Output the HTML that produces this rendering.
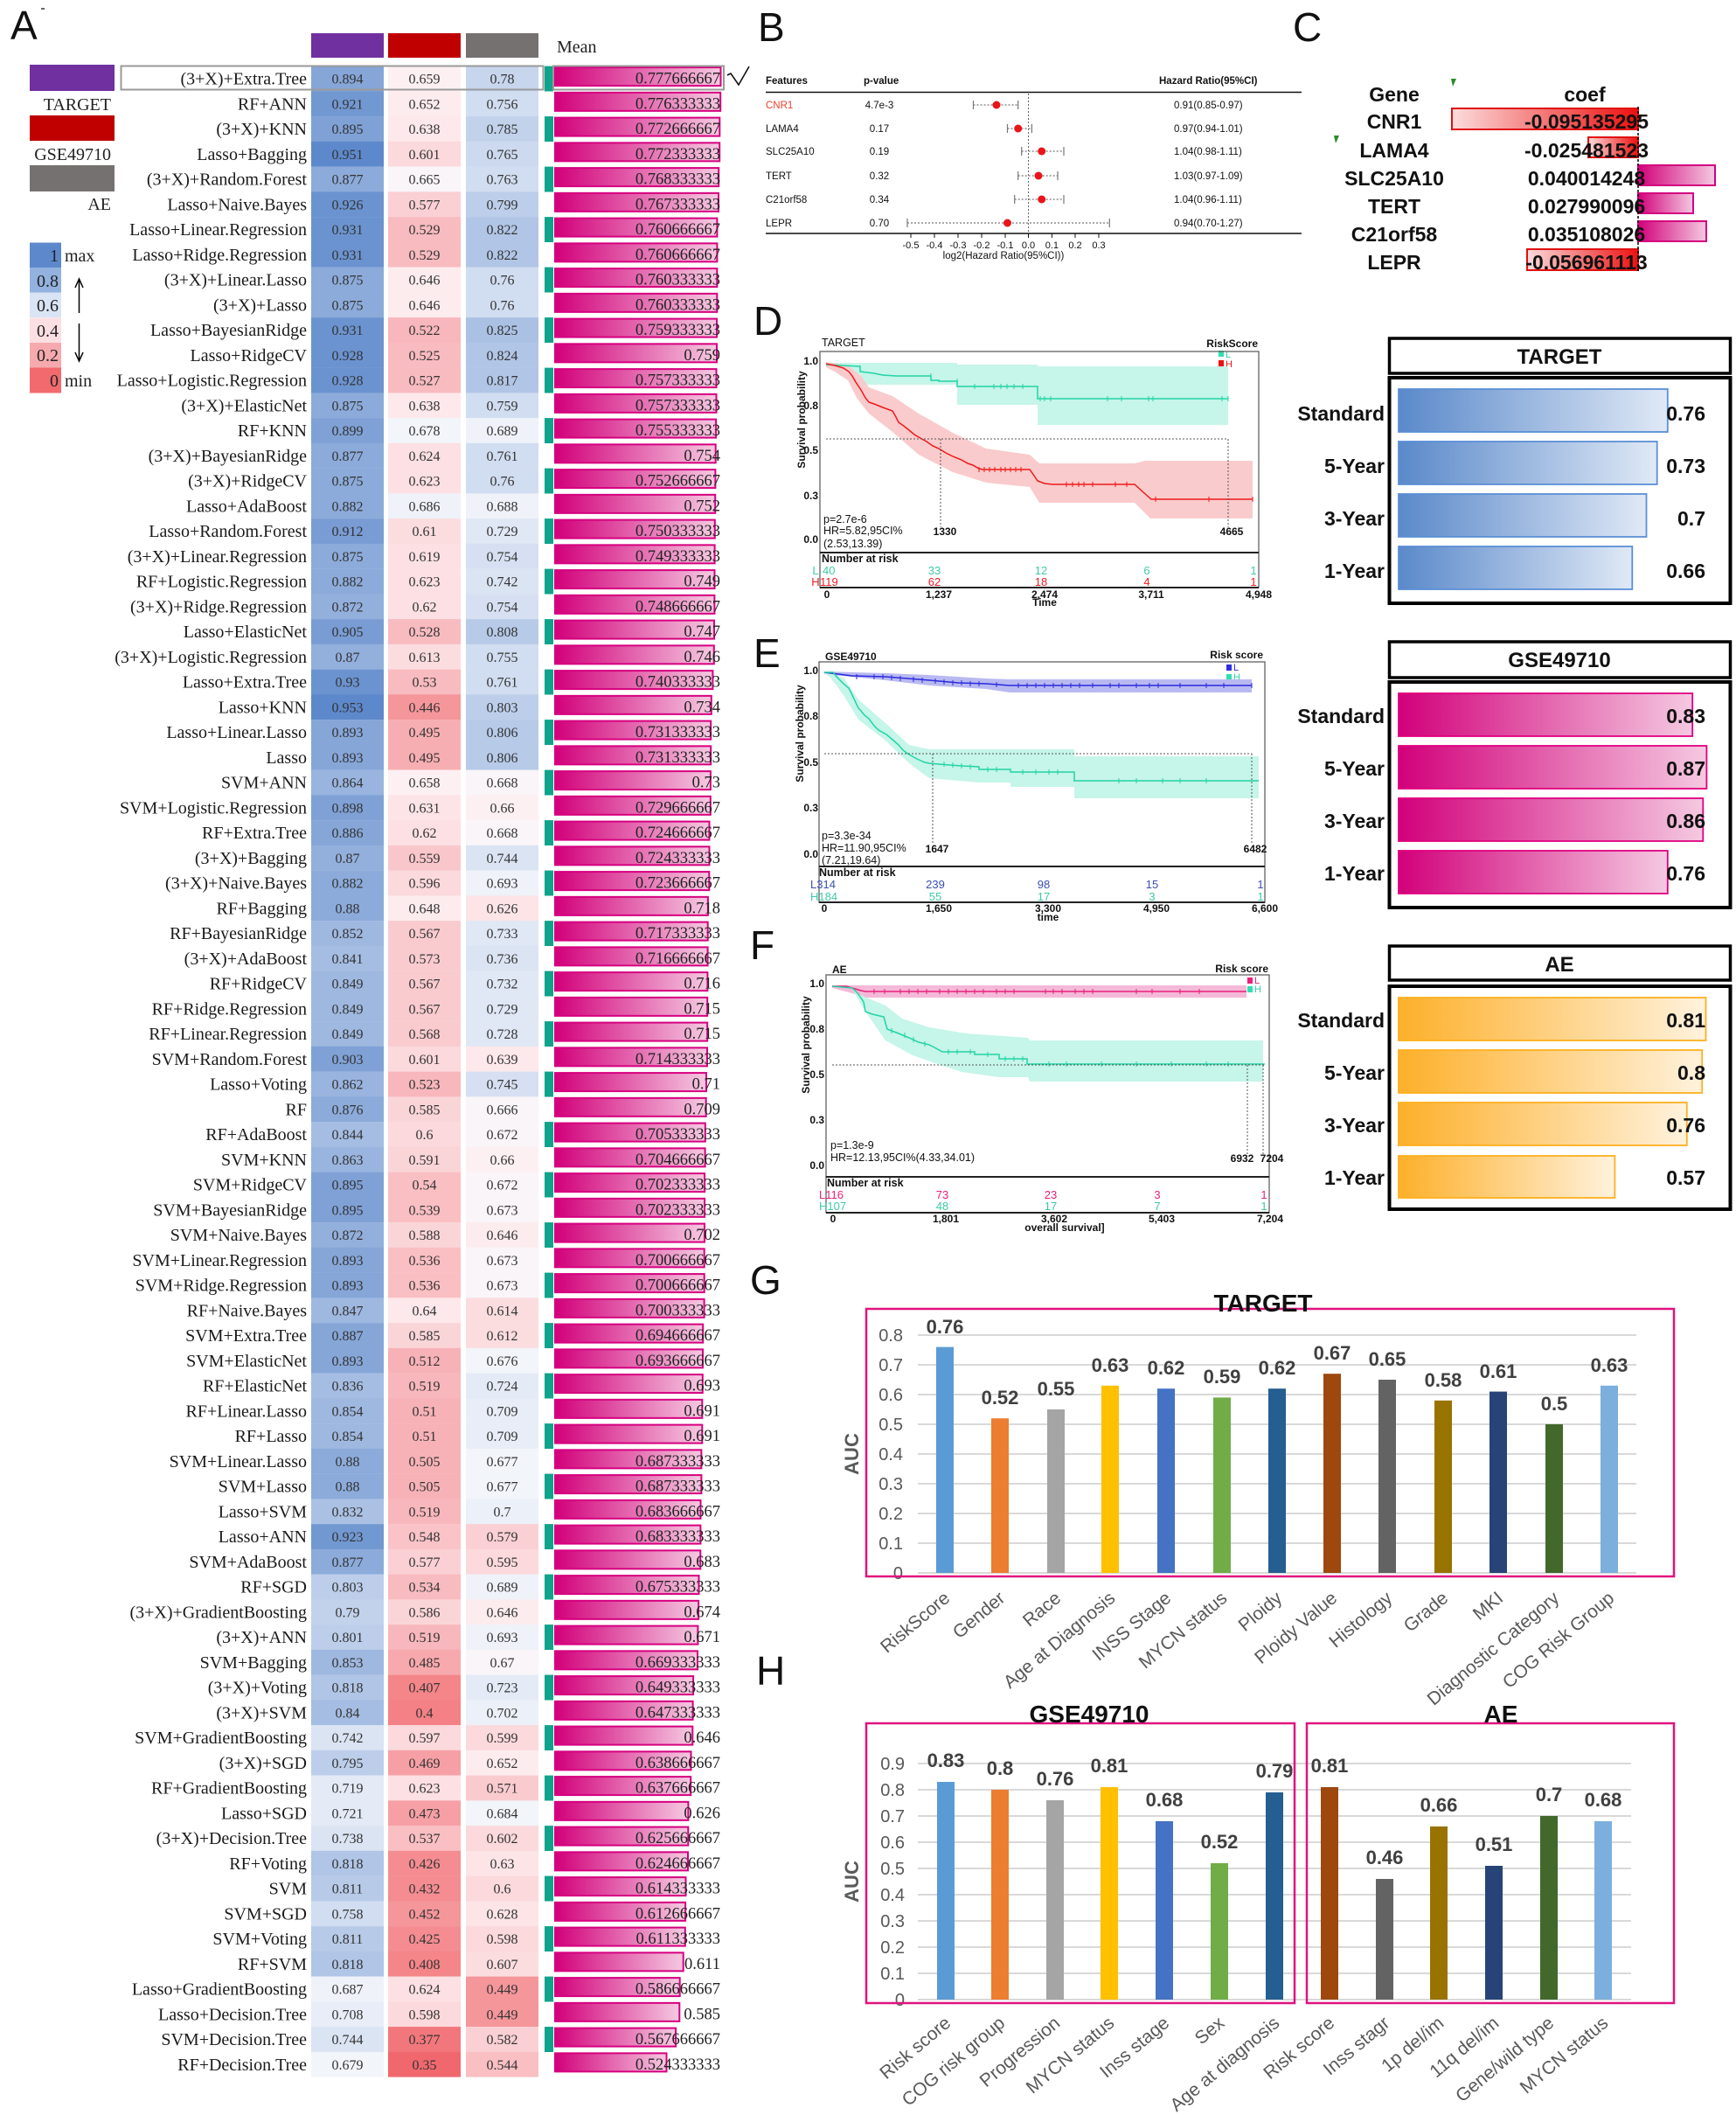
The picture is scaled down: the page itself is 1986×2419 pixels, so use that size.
<!DOCTYPE html>
<html><head><meta charset="utf-8"><title>Figure</title>
<style>
html,body{margin:0;padding:0;background:#fff;}
svg{display:block;}
text{font-family:"Liberation Sans",Arial,sans-serif;}
.lb{font-family:"Liberation Serif",serif;font-size:20px;text-anchor:end;fill:#1a1a1a;}
.v{font-family:"Liberation Serif",serif;font-size:16px;text-anchor:middle;fill:#333;}
.m{font-family:"Liberation Serif",serif;font-size:18.5px;text-anchor:end;fill:#222;}
.sr{font-family:"Liberation Serif",serif;font-size:20px;fill:#222;}
.mb{fill:url(#gm);stroke:#d6007f;stroke-width:2;}
.tl{fill:#10a38b;}
.c35{fill:#f0686e}.c38{fill:#f2777c}.c40{fill:#f38185}.c41{fill:#f48589}.c43{fill:#f48c91}.c45{fill:#f5969b}.c47{fill:#f6a0a5}.c49{fill:#f7a9ad}.c50{fill:#f7aeb2}.c51{fill:#f7b2b7}.c52{fill:#f8b7bc}.c53{fill:#f8bbc0}.c54{fill:#f9bfc3}.c55{fill:#f9c3c7}.c56{fill:#f9c7cb}.c57{fill:#f9cbcf}.c58{fill:#fad0d4}.c59{fill:#fad5d8}.c60{fill:#fbd9dc}.c61{fill:#fbdde0}.c62{fill:#fce0e3}.c63{fill:#fce4e7}.c64{fill:#fde8eb}.c65{fill:#fdecee}.c66{fill:#fdf0f2}.c67{fill:#f9f5f8}
.c68{fill:#f2f5fa}.c69{fill:#eff2f9}.c70{fill:#ecf0f8}.c71{fill:#e8edf7}.c72{fill:#e4eaf6}.c73{fill:#e0e7f5}.c74{fill:#dbe4f3}.c75{fill:#d6e0f2}.c76{fill:#d1ddf0}.c77{fill:#ccd9ef}.c78{fill:#c7d5ed}.c79{fill:#c2d2eb}.c80{fill:#bcceea}.c81{fill:#b7cae8}.c82{fill:#b1c5e6}.c83{fill:#abc1e4}.c84{fill:#a5bde2}.c85{fill:#9fb8e0}.c86{fill:#99b4de}.c87{fill:#93afdc}.c88{fill:#8cabda}.c89{fill:#86a6d8}.c90{fill:#7fa1d6}.c91{fill:#799cd4}.c92{fill:#7298d2}.c93{fill:#6b93d0}.c94{fill:#648ece}.c95{fill:#5d89cc}
.fb{font-size:11.5px;fill:#111;}
.fbh{font-size:11.5px;font-weight:bold;fill:#111;}
.cg{font-size:23px;font-weight:bold;text-anchor:middle;fill:#111;}
.kt{font-size:12px;font-weight:bold;fill:#111;}
.ktm{font-size:12px;font-weight:bold;fill:#111;text-anchor:middle;}
.kte{font-size:12px;font-weight:bold;fill:#111;text-anchor:end;}
.kp{font-size:12.5px;fill:#111;}
.nr{font-size:13px;text-anchor:middle;}
.bl{font-size:23px;font-weight:bold;text-anchor:end;fill:#111;}
.bt{font-size:24px;font-weight:bold;text-anchor:middle;fill:#111;}
.ax{font-size:20px;text-anchor:end;fill:#595959;}
.val{font-size:22px;font-weight:bold;text-anchor:middle;fill:#404040;}
.cat{font-size:21px;text-anchor:end;fill:#595959;}
.gt{font-size:28px;font-weight:bold;text-anchor:middle;fill:#111;}
.pl{font-size:46px;fill:#111;}
</style></head>
<body>
<svg width="1986" height="2419" viewBox="0 0 1986 2419" xmlns="http://www.w3.org/2000/svg">
<defs>
<linearGradient id="gm" x1="0" x2="1" y1="0" y2="0"><stop offset="0" stop-color="#d2007a"/><stop offset="1" stop-color="#f5c9e1"/></linearGradient>
<linearGradient id="gb" x1="0" x2="1" y1="0" y2="0"><stop offset="0" stop-color="#5a89ca"/><stop offset="1" stop-color="#e0e9f6"/></linearGradient>
<linearGradient id="go" x1="0" x2="1" y1="0" y2="0"><stop offset="0" stop-color="#fdb02a"/><stop offset="1" stop-color="#fff2dd"/></linearGradient>
<linearGradient id="gr" x1="0" x2="1" y1="0" y2="0"><stop offset="0" stop-color="#fbdcdc"/><stop offset="1" stop-color="#ee1010"/></linearGradient>
</defs>
<rect width="1986" height="2419" fill="#fff"/>

<!-- ================= PANEL A ================= -->
<text class="pl" x="12" y="45">A</text>
<line x1="47" y1="10" x2="51" y2="10" stroke="#333" stroke-width="1.5"/>
<rect x="356" y="38" width="83" height="28" fill="#7030a0"/>
<rect x="444" y="38" width="83" height="28" fill="#c00000"/>
<rect x="533" y="38" width="83" height="28" fill="#767171"/>
<text class="sr" x="637" y="60">Mean</text>

<rect x="34" y="74" width="97" height="30" fill="#7030a0"/>
<text class="sr" x="127" y="126" text-anchor="end">TARGET</text>
<rect x="34" y="132" width="97" height="29" fill="#c00000"/>
<text class="sr" x="127" y="183" text-anchor="end">GSE49710</text>
<rect x="34" y="189" width="97" height="30" fill="#767171"/>
<text class="sr" x="127" y="240" text-anchor="end">AE</text>

<rect x="34" y="277.5" width="36" height="28.7" fill="#5d89cc"/>
<rect x="34" y="306" width="36" height="28.7" fill="#93b2df"/>
<rect x="34" y="334.5" width="36" height="28.7" fill="#d9e4f4"/>
<rect x="34" y="363.5" width="36" height="28.7" fill="#fcdfe2"/>
<rect x="34" y="392" width="36" height="28.7" fill="#f6aaae"/>
<rect x="34" y="420.5" width="36" height="29" fill="#f26a6d"/>
<text class="sr" x="67" y="299" text-anchor="end">1</text>
<text class="sr" x="67" y="328" text-anchor="end">0.8</text>
<text class="sr" x="67" y="356" text-anchor="end">0.6</text>
<text class="sr" x="67" y="385" text-anchor="end">0.4</text>
<text class="sr" x="67" y="413" text-anchor="end">0.2</text>
<text class="sr" x="67" y="442" text-anchor="end">0</text>
<text class="sr" x="74" y="299">max</text>
<text class="sr" x="74" y="442">min</text>
<line x1="90.5" y1="320" x2="90.5" y2="358" stroke="#000" stroke-width="1.5"/>
<polyline points="86,329 90.5,319 95,329" fill="none" stroke="#000" stroke-width="1.5"/>
<line x1="90.5" y1="370" x2="90.5" y2="412" stroke="#000" stroke-width="1.5"/>
<polyline points="86,403 90.5,413 95,403" fill="none" stroke="#000" stroke-width="1.5"/>

<!-- rows -->
<g transform="translate(0,75.6)"><text class="lb" x="351" y="21">(3+X)+Extra.Tree</text><rect class="c89" x="356" width="83" height="28.9"/><text class="v" x="397.5" y="20">0.894</text><rect class="c66" x="444" width="83" height="28.9"/><text class="v" x="485.5" y="20">0.659</text><rect class="c78" x="533" width="83" height="28.9"/><text class="v" x="574.5" y="20">0.78</text><rect class="tl" x="623" width="10" height="28.9"/><rect class="mb" x="635" y="1.5" width="189.5" height="21"/><text class="m" x="824" y="20">0.777666667</text></g>
<g transform="translate(0,104.35)"><text class="lb" x="351" y="21">RF+ANN</text><rect class="c92" x="356" width="83" height="28.9"/><text class="v" x="397.5" y="20">0.921</text><rect class="c65" x="444" width="83" height="28.9"/><text class="v" x="485.5" y="20">0.652</text><rect class="c76" x="533" width="83" height="28.9"/><text class="v" x="574.5" y="20">0.756</text><rect class="mb" x="635" y="1.5" width="189.2" height="21"/><text class="m" x="824" y="20">0.776333333</text></g>
<g transform="translate(0,133.1)"><text class="lb" x="351" y="21">(3+X)+KNN</text><rect class="c90" x="356" width="83" height="28.9"/><text class="v" x="397.5" y="20">0.895</text><rect class="c64" x="444" width="83" height="28.9"/><text class="v" x="485.5" y="20">0.638</text><rect class="c79" x="533" width="83" height="28.9"/><text class="v" x="574.5" y="20">0.785</text><rect class="tl" x="623" width="10" height="28.9"/><rect class="mb" x="635" y="1.5" width="188.3" height="21"/><text class="m" x="824" y="20">0.772666667</text></g>
<g transform="translate(0,161.85)"><text class="lb" x="351" y="21">Lasso+Bagging</text><rect class="c95" x="356" width="83" height="28.9"/><text class="v" x="397.5" y="20">0.951</text><rect class="c60" x="444" width="83" height="28.9"/><text class="v" x="485.5" y="20">0.601</text><rect class="c77" x="533" width="83" height="28.9"/><text class="v" x="574.5" y="20">0.765</text><rect class="mb" x="635" y="1.5" width="188.2" height="21"/><text class="m" x="824" y="20">0.772333333</text></g>
<g transform="translate(0,190.6)"><text class="lb" x="351" y="21">(3+X)+Random.Forest</text><rect class="c88" x="356" width="83" height="28.9"/><text class="v" x="397.5" y="20">0.877</text><rect class="c67" x="444" width="83" height="28.9"/><text class="v" x="485.5" y="20">0.665</text><rect class="c76" x="533" width="83" height="28.9"/><text class="v" x="574.5" y="20">0.763</text><rect class="tl" x="623" width="10" height="28.9"/><rect class="mb" x="635" y="1.5" width="187.2" height="21"/><text class="m" x="824" y="20">0.768333333</text></g>
<g transform="translate(0,219.35)"><text class="lb" x="351" y="21">Lasso+Naive.Bayes</text><rect class="c93" x="356" width="83" height="28.9"/><text class="v" x="397.5" y="20">0.926</text><rect class="c58" x="444" width="83" height="28.9"/><text class="v" x="485.5" y="20">0.577</text><rect class="c80" x="533" width="83" height="28.9"/><text class="v" x="574.5" y="20">0.799</text><rect class="mb" x="635" y="1.5" width="187" height="21"/><text class="m" x="824" y="20">0.767333333</text></g>
<g transform="translate(0,248.1)"><text class="lb" x="351" y="21">Lasso+Linear.Regression</text><rect class="c93" x="356" width="83" height="28.9"/><text class="v" x="397.5" y="20">0.931</text><rect class="c53" x="444" width="83" height="28.9"/><text class="v" x="485.5" y="20">0.529</text><rect class="c82" x="533" width="83" height="28.9"/><text class="v" x="574.5" y="20">0.822</text><rect class="tl" x="623" width="10" height="28.9"/><rect class="mb" x="635" y="1.5" width="185.4" height="21"/><text class="m" x="824" y="20">0.760666667</text></g>
<g transform="translate(0,276.85)"><text class="lb" x="351" y="21">Lasso+Ridge.Regression</text><rect class="c93" x="356" width="83" height="28.9"/><text class="v" x="397.5" y="20">0.931</text><rect class="c53" x="444" width="83" height="28.9"/><text class="v" x="485.5" y="20">0.529</text><rect class="c82" x="533" width="83" height="28.9"/><text class="v" x="574.5" y="20">0.822</text><rect class="mb" x="635" y="1.5" width="185.4" height="21"/><text class="m" x="824" y="20">0.760666667</text></g>
<g transform="translate(0,305.6)"><text class="lb" x="351" y="21">(3+X)+Linear.Lasso</text><rect class="c88" x="356" width="83" height="28.9"/><text class="v" x="397.5" y="20">0.875</text><rect class="c65" x="444" width="83" height="28.9"/><text class="v" x="485.5" y="20">0.646</text><rect class="c76" x="533" width="83" height="28.9"/><text class="v" x="574.5" y="20">0.76</text><rect class="tl" x="623" width="10" height="28.9"/><rect class="mb" x="635" y="1.5" width="185.3" height="21"/><text class="m" x="824" y="20">0.760333333</text></g>
<g transform="translate(0,334.35)"><text class="lb" x="351" y="21">(3+X)+Lasso</text><rect class="c88" x="356" width="83" height="28.9"/><text class="v" x="397.5" y="20">0.875</text><rect class="c65" x="444" width="83" height="28.9"/><text class="v" x="485.5" y="20">0.646</text><rect class="c76" x="533" width="83" height="28.9"/><text class="v" x="574.5" y="20">0.76</text><rect class="mb" x="635" y="1.5" width="185.3" height="21"/><text class="m" x="824" y="20">0.760333333</text></g>
<g transform="translate(0,363.1)"><text class="lb" x="351" y="21">Lasso+BayesianRidge</text><rect class="c93" x="356" width="83" height="28.9"/><text class="v" x="397.5" y="20">0.931</text><rect class="c52" x="444" width="83" height="28.9"/><text class="v" x="485.5" y="20">0.522</text><rect class="c83" x="533" width="83" height="28.9"/><text class="v" x="574.5" y="20">0.825</text><rect class="tl" x="623" width="10" height="28.9"/><rect class="mb" x="635" y="1.5" width="185" height="21"/><text class="m" x="824" y="20">0.759333333</text></g>
<g transform="translate(0,391.85)"><text class="lb" x="351" y="21">Lasso+RidgeCV</text><rect class="c93" x="356" width="83" height="28.9"/><text class="v" x="397.5" y="20">0.928</text><rect class="c53" x="444" width="83" height="28.9"/><text class="v" x="485.5" y="20">0.525</text><rect class="c82" x="533" width="83" height="28.9"/><text class="v" x="574.5" y="20">0.824</text><rect class="mb" x="635" y="1.5" width="185" height="21"/><text class="m" x="824" y="20">0.759</text></g>
<g transform="translate(0,420.6)"><text class="lb" x="351" y="21">Lasso+Logistic.Regression</text><rect class="c93" x="356" width="83" height="28.9"/><text class="v" x="397.5" y="20">0.928</text><rect class="c53" x="444" width="83" height="28.9"/><text class="v" x="485.5" y="20">0.527</text><rect class="c82" x="533" width="83" height="28.9"/><text class="v" x="574.5" y="20">0.817</text><rect class="tl" x="623" width="10" height="28.9"/><rect class="mb" x="635" y="1.5" width="184.5" height="21"/><text class="m" x="824" y="20">0.757333333</text></g>
<g transform="translate(0,449.35)"><text class="lb" x="351" y="21">(3+X)+ElasticNet</text><rect class="c88" x="356" width="83" height="28.9"/><text class="v" x="397.5" y="20">0.875</text><rect class="c64" x="444" width="83" height="28.9"/><text class="v" x="485.5" y="20">0.638</text><rect class="c76" x="533" width="83" height="28.9"/><text class="v" x="574.5" y="20">0.759</text><rect class="mb" x="635" y="1.5" width="184.5" height="21"/><text class="m" x="824" y="20">0.757333333</text></g>
<g transform="translate(0,478.1)"><text class="lb" x="351" y="21">RF+KNN</text><rect class="c90" x="356" width="83" height="28.9"/><text class="v" x="397.5" y="20">0.899</text><rect class="c68" x="444" width="83" height="28.9"/><text class="v" x="485.5" y="20">0.678</text><rect class="c69" x="533" width="83" height="28.9"/><text class="v" x="574.5" y="20">0.689</text><rect class="tl" x="623" width="10" height="28.9"/><rect class="mb" x="635" y="1.5" width="184.1" height="21"/><text class="m" x="824" y="20">0.755333333</text></g>
<g transform="translate(0,506.85)"><text class="lb" x="351" y="21">(3+X)+BayesianRidge</text><rect class="c88" x="356" width="83" height="28.9"/><text class="v" x="397.5" y="20">0.877</text><rect class="c62" x="444" width="83" height="28.9"/><text class="v" x="485.5" y="20">0.624</text><rect class="c76" x="533" width="83" height="28.9"/><text class="v" x="574.5" y="20">0.761</text><rect class="mb" x="635" y="1.5" width="183.7" height="21"/><text class="m" x="824" y="20">0.754</text></g>
<g transform="translate(0,535.6)"><text class="lb" x="351" y="21">(3+X)+RidgeCV</text><rect class="c88" x="356" width="83" height="28.9"/><text class="v" x="397.5" y="20">0.875</text><rect class="c62" x="444" width="83" height="28.9"/><text class="v" x="485.5" y="20">0.623</text><rect class="c76" x="533" width="83" height="28.9"/><text class="v" x="574.5" y="20">0.76</text><rect class="tl" x="623" width="10" height="28.9"/><rect class="mb" x="635" y="1.5" width="183.4" height="21"/><text class="m" x="824" y="20">0.752666667</text></g>
<g transform="translate(0,564.35)"><text class="lb" x="351" y="21">Lasso+AdaBoost</text><rect class="c88" x="356" width="83" height="28.9"/><text class="v" x="397.5" y="20">0.882</text><rect class="c69" x="444" width="83" height="28.9"/><text class="v" x="485.5" y="20">0.686</text><rect class="c69" x="533" width="83" height="28.9"/><text class="v" x="574.5" y="20">0.688</text><rect class="mb" x="635" y="1.5" width="183.2" height="21"/><text class="m" x="824" y="20">0.752</text></g>
<g transform="translate(0,593.1)"><text class="lb" x="351" y="21">Lasso+Random.Forest</text><rect class="c91" x="356" width="83" height="28.9"/><text class="v" x="397.5" y="20">0.912</text><rect class="c61" x="444" width="83" height="28.9"/><text class="v" x="485.5" y="20">0.61</text><rect class="c73" x="533" width="83" height="28.9"/><text class="v" x="574.5" y="20">0.729</text><rect class="tl" x="623" width="10" height="28.9"/><rect class="mb" x="635" y="1.5" width="182.8" height="21"/><text class="m" x="824" y="20">0.750333333</text></g>
<g transform="translate(0,621.85)"><text class="lb" x="351" y="21">(3+X)+Linear.Regression</text><rect class="c88" x="356" width="83" height="28.9"/><text class="v" x="397.5" y="20">0.875</text><rect class="c62" x="444" width="83" height="28.9"/><text class="v" x="485.5" y="20">0.619</text><rect class="c75" x="533" width="83" height="28.9"/><text class="v" x="574.5" y="20">0.754</text><rect class="mb" x="635" y="1.5" width="182.6" height="21"/><text class="m" x="824" y="20">0.749333333</text></g>
<g transform="translate(0,650.6)"><text class="lb" x="351" y="21">RF+Logistic.Regression</text><rect class="c88" x="356" width="83" height="28.9"/><text class="v" x="397.5" y="20">0.882</text><rect class="c62" x="444" width="83" height="28.9"/><text class="v" x="485.5" y="20">0.623</text><rect class="c74" x="533" width="83" height="28.9"/><text class="v" x="574.5" y="20">0.742</text><rect class="tl" x="623" width="10" height="28.9"/><rect class="mb" x="635" y="1.5" width="182.5" height="21"/><text class="m" x="824" y="20">0.749</text></g>
<g transform="translate(0,679.35)"><text class="lb" x="351" y="21">(3+X)+Ridge.Regression</text><rect class="c87" x="356" width="83" height="28.9"/><text class="v" x="397.5" y="20">0.872</text><rect class="c62" x="444" width="83" height="28.9"/><text class="v" x="485.5" y="20">0.62</text><rect class="c75" x="533" width="83" height="28.9"/><text class="v" x="574.5" y="20">0.754</text><rect class="mb" x="635" y="1.5" width="182.4" height="21"/><text class="m" x="824" y="20">0.748666667</text></g>
<g transform="translate(0,708.1)"><text class="lb" x="351" y="21">Lasso+ElasticNet</text><rect class="c91" x="356" width="83" height="28.9"/><text class="v" x="397.5" y="20">0.905</text><rect class="c53" x="444" width="83" height="28.9"/><text class="v" x="485.5" y="20">0.528</text><rect class="c81" x="533" width="83" height="28.9"/><text class="v" x="574.5" y="20">0.808</text><rect class="tl" x="623" width="10" height="28.9"/><rect class="mb" x="635" y="1.5" width="182" height="21"/><text class="m" x="824" y="20">0.747</text></g>
<g transform="translate(0,736.85)"><text class="lb" x="351" y="21">(3+X)+Logistic.Regression</text><rect class="c87" x="356" width="83" height="28.9"/><text class="v" x="397.5" y="20">0.87</text><rect class="c61" x="444" width="83" height="28.9"/><text class="v" x="485.5" y="20">0.613</text><rect class="c76" x="533" width="83" height="28.9"/><text class="v" x="574.5" y="20">0.755</text><rect class="mb" x="635" y="1.5" width="181.8" height="21"/><text class="m" x="824" y="20">0.746</text></g>
<g transform="translate(0,765.6)"><text class="lb" x="351" y="21">Lasso+Extra.Tree</text><rect class="c93" x="356" width="83" height="28.9"/><text class="v" x="397.5" y="20">0.93</text><rect class="c53" x="444" width="83" height="28.9"/><text class="v" x="485.5" y="20">0.53</text><rect class="c76" x="533" width="83" height="28.9"/><text class="v" x="574.5" y="20">0.761</text><rect class="tl" x="623" width="10" height="28.9"/><rect class="mb" x="635" y="1.5" width="180.4" height="21"/><text class="m" x="824" y="20">0.740333333</text></g>
<g transform="translate(0,794.35)"><text class="lb" x="351" y="21">Lasso+KNN</text><rect class="c95" x="356" width="83" height="28.9"/><text class="v" x="397.5" y="20">0.953</text><rect class="c45" x="444" width="83" height="28.9"/><text class="v" x="485.5" y="20">0.446</text><rect class="c80" x="533" width="83" height="28.9"/><text class="v" x="574.5" y="20">0.803</text><rect class="mb" x="635" y="1.5" width="178.8" height="21"/><text class="m" x="824" y="20">0.734</text></g>
<g transform="translate(0,823.1)"><text class="lb" x="351" y="21">Lasso+Linear.Lasso</text><rect class="c89" x="356" width="83" height="28.9"/><text class="v" x="397.5" y="20">0.893</text><rect class="c50" x="444" width="83" height="28.9"/><text class="v" x="485.5" y="20">0.495</text><rect class="c81" x="533" width="83" height="28.9"/><text class="v" x="574.5" y="20">0.806</text><rect class="tl" x="623" width="10" height="28.9"/><rect class="mb" x="635" y="1.5" width="178.2" height="21"/><text class="m" x="824" y="20">0.731333333</text></g>
<g transform="translate(0,851.85)"><text class="lb" x="351" y="21">Lasso</text><rect class="c89" x="356" width="83" height="28.9"/><text class="v" x="397.5" y="20">0.893</text><rect class="c50" x="444" width="83" height="28.9"/><text class="v" x="485.5" y="20">0.495</text><rect class="c81" x="533" width="83" height="28.9"/><text class="v" x="574.5" y="20">0.806</text><rect class="mb" x="635" y="1.5" width="178.2" height="21"/><text class="m" x="824" y="20">0.731333333</text></g>
<g transform="translate(0,880.6)"><text class="lb" x="351" y="21">SVM+ANN</text><rect class="c86" x="356" width="83" height="28.9"/><text class="v" x="397.5" y="20">0.864</text><rect class="c66" x="444" width="83" height="28.9"/><text class="v" x="485.5" y="20">0.658</text><rect class="c67" x="533" width="83" height="28.9"/><text class="v" x="574.5" y="20">0.668</text><rect class="tl" x="623" width="10" height="28.9"/><rect class="mb" x="635" y="1.5" width="177.9" height="21"/><text class="m" x="824" y="20">0.73</text></g>
<g transform="translate(0,909.35)"><text class="lb" x="351" y="21">SVM+Logistic.Regression</text><rect class="c90" x="356" width="83" height="28.9"/><text class="v" x="397.5" y="20">0.898</text><rect class="c63" x="444" width="83" height="28.9"/><text class="v" x="485.5" y="20">0.631</text><rect class="c66" x="533" width="83" height="28.9"/><text class="v" x="574.5" y="20">0.66</text><rect class="mb" x="635" y="1.5" width="177.8" height="21"/><text class="m" x="824" y="20">0.729666667</text></g>
<g transform="translate(0,938.1)"><text class="lb" x="351" y="21">RF+Extra.Tree</text><rect class="c89" x="356" width="83" height="28.9"/><text class="v" x="397.5" y="20">0.886</text><rect class="c62" x="444" width="83" height="28.9"/><text class="v" x="485.5" y="20">0.62</text><rect class="c67" x="533" width="83" height="28.9"/><text class="v" x="574.5" y="20">0.668</text><rect class="tl" x="623" width="10" height="28.9"/><rect class="mb" x="635" y="1.5" width="176.5" height="21"/><text class="m" x="824" y="20">0.724666667</text></g>
<g transform="translate(0,966.85)"><text class="lb" x="351" y="21">(3+X)+Bagging</text><rect class="c87" x="356" width="83" height="28.9"/><text class="v" x="397.5" y="20">0.87</text><rect class="c56" x="444" width="83" height="28.9"/><text class="v" x="485.5" y="20">0.559</text><rect class="c74" x="533" width="83" height="28.9"/><text class="v" x="574.5" y="20">0.744</text><rect class="mb" x="635" y="1.5" width="176.5" height="21"/><text class="m" x="824" y="20">0.724333333</text></g>
<g transform="translate(0,995.6)"><text class="lb" x="351" y="21">(3+X)+Naive.Bayes</text><rect class="c88" x="356" width="83" height="28.9"/><text class="v" x="397.5" y="20">0.882</text><rect class="c60" x="444" width="83" height="28.9"/><text class="v" x="485.5" y="20">0.596</text><rect class="c69" x="533" width="83" height="28.9"/><text class="v" x="574.5" y="20">0.693</text><rect class="tl" x="623" width="10" height="28.9"/><rect class="mb" x="635" y="1.5" width="176.3" height="21"/><text class="m" x="824" y="20">0.723666667</text></g>
<g transform="translate(0,1024.35)"><text class="lb" x="351" y="21">RF+Bagging</text><rect class="c88" x="356" width="83" height="28.9"/><text class="v" x="397.5" y="20">0.88</text><rect class="c65" x="444" width="83" height="28.9"/><text class="v" x="485.5" y="20">0.648</text><rect class="c63" x="533" width="83" height="28.9"/><text class="v" x="574.5" y="20">0.626</text><rect class="mb" x="635" y="1.5" width="174.9" height="21"/><text class="m" x="824" y="20">0.718</text></g>
<g transform="translate(0,1053.1)"><text class="lb" x="351" y="21">RF+BayesianRidge</text><rect class="c85" x="356" width="83" height="28.9"/><text class="v" x="397.5" y="20">0.852</text><rect class="c57" x="444" width="83" height="28.9"/><text class="v" x="485.5" y="20">0.567</text><rect class="c73" x="533" width="83" height="28.9"/><text class="v" x="574.5" y="20">0.733</text><rect class="tl" x="623" width="10" height="28.9"/><rect class="mb" x="635" y="1.5" width="174.7" height="21"/><text class="m" x="824" y="20">0.717333333</text></g>
<g transform="translate(0,1081.85)"><text class="lb" x="351" y="21">(3+X)+AdaBoost</text><rect class="c84" x="356" width="83" height="28.9"/><text class="v" x="397.5" y="20">0.841</text><rect class="c57" x="444" width="83" height="28.9"/><text class="v" x="485.5" y="20">0.573</text><rect class="c74" x="533" width="83" height="28.9"/><text class="v" x="574.5" y="20">0.736</text><rect class="mb" x="635" y="1.5" width="174.6" height="21"/><text class="m" x="824" y="20">0.716666667</text></g>
<g transform="translate(0,1110.6)"><text class="lb" x="351" y="21">RF+RidgeCV</text><rect class="c85" x="356" width="83" height="28.9"/><text class="v" x="397.5" y="20">0.849</text><rect class="c57" x="444" width="83" height="28.9"/><text class="v" x="485.5" y="20">0.567</text><rect class="c73" x="533" width="83" height="28.9"/><text class="v" x="574.5" y="20">0.732</text><rect class="tl" x="623" width="10" height="28.9"/><rect class="mb" x="635" y="1.5" width="174.4" height="21"/><text class="m" x="824" y="20">0.716</text></g>
<g transform="translate(0,1139.35)"><text class="lb" x="351" y="21">RF+Ridge.Regression</text><rect class="c85" x="356" width="83" height="28.9"/><text class="v" x="397.5" y="20">0.849</text><rect class="c57" x="444" width="83" height="28.9"/><text class="v" x="485.5" y="20">0.567</text><rect class="c73" x="533" width="83" height="28.9"/><text class="v" x="574.5" y="20">0.729</text><rect class="mb" x="635" y="1.5" width="174.2" height="21"/><text class="m" x="824" y="20">0.715</text></g>
<g transform="translate(0,1168.1)"><text class="lb" x="351" y="21">RF+Linear.Regression</text><rect class="c85" x="356" width="83" height="28.9"/><text class="v" x="397.5" y="20">0.849</text><rect class="c57" x="444" width="83" height="28.9"/><text class="v" x="485.5" y="20">0.568</text><rect class="c73" x="533" width="83" height="28.9"/><text class="v" x="574.5" y="20">0.728</text><rect class="tl" x="623" width="10" height="28.9"/><rect class="mb" x="635" y="1.5" width="174.2" height="21"/><text class="m" x="824" y="20">0.715</text></g>
<g transform="translate(0,1196.85)"><text class="lb" x="351" y="21">SVM+Random.Forest</text><rect class="c90" x="356" width="83" height="28.9"/><text class="v" x="397.5" y="20">0.903</text><rect class="c60" x="444" width="83" height="28.9"/><text class="v" x="485.5" y="20">0.601</text><rect class="c64" x="533" width="83" height="28.9"/><text class="v" x="574.5" y="20">0.639</text><rect class="mb" x="635" y="1.5" width="174" height="21"/><text class="m" x="824" y="20">0.714333333</text></g>
<g transform="translate(0,1225.6)"><text class="lb" x="351" y="21">Lasso+Voting</text><rect class="c86" x="356" width="83" height="28.9"/><text class="v" x="397.5" y="20">0.862</text><rect class="c52" x="444" width="83" height="28.9"/><text class="v" x="485.5" y="20">0.523</text><rect class="c75" x="533" width="83" height="28.9"/><text class="v" x="574.5" y="20">0.745</text><rect class="tl" x="623" width="10" height="28.9"/><rect class="mb" x="635" y="1.5" width="173" height="21"/><text class="m" x="824" y="20">0.71</text></g>
<g transform="translate(0,1254.35)"><text class="lb" x="351" y="21">RF</text><rect class="c88" x="356" width="83" height="28.9"/><text class="v" x="397.5" y="20">0.876</text><rect class="c59" x="444" width="83" height="28.9"/><text class="v" x="485.5" y="20">0.585</text><rect class="c67" x="533" width="83" height="28.9"/><text class="v" x="574.5" y="20">0.666</text><rect class="mb" x="635" y="1.5" width="172.7" height="21"/><text class="m" x="824" y="20">0.709</text></g>
<g transform="translate(0,1283.1)"><text class="lb" x="351" y="21">RF+AdaBoost</text><rect class="c84" x="356" width="83" height="28.9"/><text class="v" x="397.5" y="20">0.844</text><rect class="c60" x="444" width="83" height="28.9"/><text class="v" x="485.5" y="20">0.6</text><rect class="c67" x="533" width="83" height="28.9"/><text class="v" x="574.5" y="20">0.672</text><rect class="tl" x="623" width="10" height="28.9"/><rect class="mb" x="635" y="1.5" width="171.8" height="21"/><text class="m" x="824" y="20">0.705333333</text></g>
<g transform="translate(0,1311.85)"><text class="lb" x="351" y="21">SVM+KNN</text><rect class="c86" x="356" width="83" height="28.9"/><text class="v" x="397.5" y="20">0.863</text><rect class="c59" x="444" width="83" height="28.9"/><text class="v" x="485.5" y="20">0.591</text><rect class="c66" x="533" width="83" height="28.9"/><text class="v" x="574.5" y="20">0.66</text><rect class="mb" x="635" y="1.5" width="171.6" height="21"/><text class="m" x="824" y="20">0.704666667</text></g>
<g transform="translate(0,1340.6)"><text class="lb" x="351" y="21">SVM+RidgeCV</text><rect class="c90" x="356" width="83" height="28.9"/><text class="v" x="397.5" y="20">0.895</text><rect class="c54" x="444" width="83" height="28.9"/><text class="v" x="485.5" y="20">0.54</text><rect class="c67" x="533" width="83" height="28.9"/><text class="v" x="574.5" y="20">0.672</text><rect class="tl" x="623" width="10" height="28.9"/><rect class="mb" x="635" y="1.5" width="171.1" height="21"/><text class="m" x="824" y="20">0.702333333</text></g>
<g transform="translate(0,1369.35)"><text class="lb" x="351" y="21">SVM+BayesianRidge</text><rect class="c90" x="356" width="83" height="28.9"/><text class="v" x="397.5" y="20">0.895</text><rect class="c54" x="444" width="83" height="28.9"/><text class="v" x="485.5" y="20">0.539</text><rect class="c67" x="533" width="83" height="28.9"/><text class="v" x="574.5" y="20">0.673</text><rect class="mb" x="635" y="1.5" width="171.1" height="21"/><text class="m" x="824" y="20">0.702333333</text></g>
<g transform="translate(0,1398.1)"><text class="lb" x="351" y="21">SVM+Naive.Bayes</text><rect class="c87" x="356" width="83" height="28.9"/><text class="v" x="397.5" y="20">0.872</text><rect class="c59" x="444" width="83" height="28.9"/><text class="v" x="485.5" y="20">0.588</text><rect class="c65" x="533" width="83" height="28.9"/><text class="v" x="574.5" y="20">0.646</text><rect class="tl" x="623" width="10" height="28.9"/><rect class="mb" x="635" y="1.5" width="171" height="21"/><text class="m" x="824" y="20">0.702</text></g>
<g transform="translate(0,1426.85)"><text class="lb" x="351" y="21">SVM+Linear.Regression</text><rect class="c89" x="356" width="83" height="28.9"/><text class="v" x="397.5" y="20">0.893</text><rect class="c54" x="444" width="83" height="28.9"/><text class="v" x="485.5" y="20">0.536</text><rect class="c67" x="533" width="83" height="28.9"/><text class="v" x="574.5" y="20">0.673</text><rect class="mb" x="635" y="1.5" width="170.7" height="21"/><text class="m" x="824" y="20">0.700666667</text></g>
<g transform="translate(0,1455.6)"><text class="lb" x="351" y="21">SVM+Ridge.Regression</text><rect class="c89" x="356" width="83" height="28.9"/><text class="v" x="397.5" y="20">0.893</text><rect class="c54" x="444" width="83" height="28.9"/><text class="v" x="485.5" y="20">0.536</text><rect class="c67" x="533" width="83" height="28.9"/><text class="v" x="574.5" y="20">0.673</text><rect class="tl" x="623" width="10" height="28.9"/><rect class="mb" x="635" y="1.5" width="170.7" height="21"/><text class="m" x="824" y="20">0.700666667</text></g>
<g transform="translate(0,1484.35)"><text class="lb" x="351" y="21">RF+Naive.Bayes</text><rect class="c85" x="356" width="83" height="28.9"/><text class="v" x="397.5" y="20">0.847</text><rect class="c64" x="444" width="83" height="28.9"/><text class="v" x="485.5" y="20">0.64</text><rect class="c61" x="533" width="83" height="28.9"/><text class="v" x="574.5" y="20">0.614</text><rect class="mb" x="635" y="1.5" width="170.6" height="21"/><text class="m" x="824" y="20">0.700333333</text></g>
<g transform="translate(0,1513.1)"><text class="lb" x="351" y="21">SVM+Extra.Tree</text><rect class="c89" x="356" width="83" height="28.9"/><text class="v" x="397.5" y="20">0.887</text><rect class="c59" x="444" width="83" height="28.9"/><text class="v" x="485.5" y="20">0.585</text><rect class="c61" x="533" width="83" height="28.9"/><text class="v" x="574.5" y="20">0.612</text><rect class="tl" x="623" width="10" height="28.9"/><rect class="mb" x="635" y="1.5" width="169.2" height="21"/><text class="m" x="824" y="20">0.694666667</text></g>
<g transform="translate(0,1541.85)"><text class="lb" x="351" y="21">SVM+ElasticNet</text><rect class="c89" x="356" width="83" height="28.9"/><text class="v" x="397.5" y="20">0.893</text><rect class="c51" x="444" width="83" height="28.9"/><text class="v" x="485.5" y="20">0.512</text><rect class="c68" x="533" width="83" height="28.9"/><text class="v" x="574.5" y="20">0.676</text><rect class="mb" x="635" y="1.5" width="169" height="21"/><text class="m" x="824" y="20">0.693666667</text></g>
<g transform="translate(0,1570.6)"><text class="lb" x="351" y="21">RF+ElasticNet</text><rect class="c84" x="356" width="83" height="28.9"/><text class="v" x="397.5" y="20">0.836</text><rect class="c52" x="444" width="83" height="28.9"/><text class="v" x="485.5" y="20">0.519</text><rect class="c72" x="533" width="83" height="28.9"/><text class="v" x="574.5" y="20">0.724</text><rect class="tl" x="623" width="10" height="28.9"/><rect class="mb" x="635" y="1.5" width="168.8" height="21"/><text class="m" x="824" y="20">0.693</text></g>
<g transform="translate(0,1599.35)"><text class="lb" x="351" y="21">RF+Linear.Lasso</text><rect class="c85" x="356" width="83" height="28.9"/><text class="v" x="397.5" y="20">0.854</text><rect class="c51" x="444" width="83" height="28.9"/><text class="v" x="485.5" y="20">0.51</text><rect class="c71" x="533" width="83" height="28.9"/><text class="v" x="574.5" y="20">0.709</text><rect class="mb" x="635" y="1.5" width="168.3" height="21"/><text class="m" x="824" y="20">0.691</text></g>
<g transform="translate(0,1628.1)"><text class="lb" x="351" y="21">RF+Lasso</text><rect class="c85" x="356" width="83" height="28.9"/><text class="v" x="397.5" y="20">0.854</text><rect class="c51" x="444" width="83" height="28.9"/><text class="v" x="485.5" y="20">0.51</text><rect class="c71" x="533" width="83" height="28.9"/><text class="v" x="574.5" y="20">0.709</text><rect class="tl" x="623" width="10" height="28.9"/><rect class="mb" x="635" y="1.5" width="168.3" height="21"/><text class="m" x="824" y="20">0.691</text></g>
<g transform="translate(0,1656.85)"><text class="lb" x="351" y="21">SVM+Linear.Lasso</text><rect class="c88" x="356" width="83" height="28.9"/><text class="v" x="397.5" y="20">0.88</text><rect class="c51" x="444" width="83" height="28.9"/><text class="v" x="485.5" y="20">0.505</text><rect class="c68" x="533" width="83" height="28.9"/><text class="v" x="574.5" y="20">0.677</text><rect class="mb" x="635" y="1.5" width="167.4" height="21"/><text class="m" x="824" y="20">0.687333333</text></g>
<g transform="translate(0,1685.6)"><text class="lb" x="351" y="21">SVM+Lasso</text><rect class="c88" x="356" width="83" height="28.9"/><text class="v" x="397.5" y="20">0.88</text><rect class="c51" x="444" width="83" height="28.9"/><text class="v" x="485.5" y="20">0.505</text><rect class="c68" x="533" width="83" height="28.9"/><text class="v" x="574.5" y="20">0.677</text><rect class="tl" x="623" width="10" height="28.9"/><rect class="mb" x="635" y="1.5" width="167.4" height="21"/><text class="m" x="824" y="20">0.687333333</text></g>
<g transform="translate(0,1714.35)"><text class="lb" x="351" y="21">Lasso+SVM</text><rect class="c83" x="356" width="83" height="28.9"/><text class="v" x="397.5" y="20">0.832</text><rect class="c52" x="444" width="83" height="28.9"/><text class="v" x="485.5" y="20">0.519</text><rect class="c70" x="533" width="83" height="28.9"/><text class="v" x="574.5" y="20">0.7</text><rect class="mb" x="635" y="1.5" width="166.5" height="21"/><text class="m" x="824" y="20">0.683666667</text></g>
<g transform="translate(0,1743.1)"><text class="lb" x="351" y="21">Lasso+ANN</text><rect class="c92" x="356" width="83" height="28.9"/><text class="v" x="397.5" y="20">0.923</text><rect class="c55" x="444" width="83" height="28.9"/><text class="v" x="485.5" y="20">0.548</text><rect class="c58" x="533" width="83" height="28.9"/><text class="v" x="574.5" y="20">0.579</text><rect class="tl" x="623" width="10" height="28.9"/><rect class="mb" x="635" y="1.5" width="166.4" height="21"/><text class="m" x="824" y="20">0.683333333</text></g>
<g transform="translate(0,1771.85)"><text class="lb" x="351" y="21">SVM+AdaBoost</text><rect class="c88" x="356" width="83" height="28.9"/><text class="v" x="397.5" y="20">0.877</text><rect class="c58" x="444" width="83" height="28.9"/><text class="v" x="485.5" y="20">0.577</text><rect class="c60" x="533" width="83" height="28.9"/><text class="v" x="574.5" y="20">0.595</text><rect class="mb" x="635" y="1.5" width="166.3" height="21"/><text class="m" x="824" y="20">0.683</text></g>
<g transform="translate(0,1800.6)"><text class="lb" x="351" y="21">RF+SGD</text><rect class="c80" x="356" width="83" height="28.9"/><text class="v" x="397.5" y="20">0.803</text><rect class="c53" x="444" width="83" height="28.9"/><text class="v" x="485.5" y="20">0.534</text><rect class="c69" x="533" width="83" height="28.9"/><text class="v" x="574.5" y="20">0.689</text><rect class="tl" x="623" width="10" height="28.9"/><rect class="mb" x="635" y="1.5" width="164.5" height="21"/><text class="m" x="824" y="20">0.675333333</text></g>
<g transform="translate(0,1829.35)"><text class="lb" x="351" y="21">(3+X)+GradientBoosting</text><rect class="c79" x="356" width="83" height="28.9"/><text class="v" x="397.5" y="20">0.79</text><rect class="c59" x="444" width="83" height="28.9"/><text class="v" x="485.5" y="20">0.586</text><rect class="c65" x="533" width="83" height="28.9"/><text class="v" x="574.5" y="20">0.646</text><rect class="mb" x="635" y="1.5" width="164.1" height="21"/><text class="m" x="824" y="20">0.674</text></g>
<g transform="translate(0,1858.1)"><text class="lb" x="351" y="21">(3+X)+ANN</text><rect class="c80" x="356" width="83" height="28.9"/><text class="v" x="397.5" y="20">0.801</text><rect class="c52" x="444" width="83" height="28.9"/><text class="v" x="485.5" y="20">0.519</text><rect class="c69" x="533" width="83" height="28.9"/><text class="v" x="574.5" y="20">0.693</text><rect class="tl" x="623" width="10" height="28.9"/><rect class="mb" x="635" y="1.5" width="163.4" height="21"/><text class="m" x="824" y="20">0.671</text></g>
<g transform="translate(0,1886.85)"><text class="lb" x="351" y="21">SVM+Bagging</text><rect class="c85" x="356" width="83" height="28.9"/><text class="v" x="397.5" y="20">0.853</text><rect class="c49" x="444" width="83" height="28.9"/><text class="v" x="485.5" y="20">0.485</text><rect class="c67" x="533" width="83" height="28.9"/><text class="v" x="574.5" y="20">0.67</text><rect class="mb" x="635" y="1.5" width="163" height="21"/><text class="m" x="824" y="20">0.669333333</text></g>
<g transform="translate(0,1915.6)"><text class="lb" x="351" y="21">(3+X)+Voting</text><rect class="c82" x="356" width="83" height="28.9"/><text class="v" x="397.5" y="20">0.818</text><rect class="c41" x="444" width="83" height="28.9"/><text class="v" x="485.5" y="20">0.407</text><rect class="c72" x="533" width="83" height="28.9"/><text class="v" x="574.5" y="20">0.723</text><rect class="tl" x="623" width="10" height="28.9"/><rect class="mb" x="635" y="1.5" width="158.1" height="21"/><text class="m" x="824" y="20">0.649333333</text></g>
<g transform="translate(0,1944.35)"><text class="lb" x="351" y="21">(3+X)+SVM</text><rect class="c84" x="356" width="83" height="28.9"/><text class="v" x="397.5" y="20">0.84</text><rect class="c40" x="444" width="83" height="28.9"/><text class="v" x="485.5" y="20">0.4</text><rect class="c70" x="533" width="83" height="28.9"/><text class="v" x="574.5" y="20">0.702</text><rect class="mb" x="635" y="1.5" width="157.6" height="21"/><text class="m" x="824" y="20">0.647333333</text></g>
<g transform="translate(0,1973.1)"><text class="lb" x="351" y="21">SVM+GradientBoosting</text><rect class="c74" x="356" width="83" height="28.9"/><text class="v" x="397.5" y="20">0.742</text><rect class="c60" x="444" width="83" height="28.9"/><text class="v" x="485.5" y="20">0.597</text><rect class="c60" x="533" width="83" height="28.9"/><text class="v" x="574.5" y="20">0.599</text><rect class="tl" x="623" width="10" height="28.9"/><rect class="mb" x="635" y="1.5" width="157.3" height="21"/><text class="m" x="824" y="20">0.646</text></g>
<g transform="translate(0,2001.85)"><text class="lb" x="351" y="21">(3+X)+SGD</text><rect class="c80" x="356" width="83" height="28.9"/><text class="v" x="397.5" y="20">0.795</text><rect class="c47" x="444" width="83" height="28.9"/><text class="v" x="485.5" y="20">0.469</text><rect class="c65" x="533" width="83" height="28.9"/><text class="v" x="574.5" y="20">0.652</text><rect class="mb" x="635" y="1.5" width="155.5" height="21"/><text class="m" x="824" y="20">0.638666667</text></g>
<g transform="translate(0,2030.6)"><text class="lb" x="351" y="21">RF+GradientBoosting</text><rect class="c72" x="356" width="83" height="28.9"/><text class="v" x="397.5" y="20">0.719</text><rect class="c62" x="444" width="83" height="28.9"/><text class="v" x="485.5" y="20">0.623</text><rect class="c57" x="533" width="83" height="28.9"/><text class="v" x="574.5" y="20">0.571</text><rect class="tl" x="623" width="10" height="28.9"/><rect class="mb" x="635" y="1.5" width="155.2" height="21"/><text class="m" x="824" y="20">0.637666667</text></g>
<g transform="translate(0,2059.35)"><text class="lb" x="351" y="21">Lasso+SGD</text><rect class="c72" x="356" width="83" height="28.9"/><text class="v" x="397.5" y="20">0.721</text><rect class="c47" x="444" width="83" height="28.9"/><text class="v" x="485.5" y="20">0.473</text><rect class="c68" x="533" width="83" height="28.9"/><text class="v" x="574.5" y="20">0.684</text><rect class="mb" x="635" y="1.5" width="152.4" height="21"/><text class="m" x="824" y="20">0.626</text></g>
<g transform="translate(0,2088.1)"><text class="lb" x="351" y="21">(3+X)+Decision.Tree</text><rect class="c74" x="356" width="83" height="28.9"/><text class="v" x="397.5" y="20">0.738</text><rect class="c54" x="444" width="83" height="28.9"/><text class="v" x="485.5" y="20">0.537</text><rect class="c60" x="533" width="83" height="28.9"/><text class="v" x="574.5" y="20">0.602</text><rect class="tl" x="623" width="10" height="28.9"/><rect class="mb" x="635" y="1.5" width="152.3" height="21"/><text class="m" x="824" y="20">0.625666667</text></g>
<g transform="translate(0,2116.85)"><text class="lb" x="351" y="21">RF+Voting</text><rect class="c82" x="356" width="83" height="28.9"/><text class="v" x="397.5" y="20">0.818</text><rect class="c43" x="444" width="83" height="28.9"/><text class="v" x="485.5" y="20">0.426</text><rect class="c63" x="533" width="83" height="28.9"/><text class="v" x="574.5" y="20">0.63</text><rect class="mb" x="635" y="1.5" width="152" height="21"/><text class="m" x="824" y="20">0.624666667</text></g>
<g transform="translate(0,2145.6)"><text class="lb" x="351" y="21">SVM</text><rect class="c81" x="356" width="83" height="28.9"/><text class="v" x="397.5" y="20">0.811</text><rect class="c43" x="444" width="83" height="28.9"/><text class="v" x="485.5" y="20">0.432</text><rect class="c60" x="533" width="83" height="28.9"/><text class="v" x="574.5" y="20">0.6</text><rect class="tl" x="623" width="10" height="28.9"/><rect class="mb" x="635" y="1.5" width="149.5" height="21"/><text class="m" x="824" y="20">0.614333333</text></g>
<g transform="translate(0,2174.35)"><text class="lb" x="351" y="21">SVM+SGD</text><rect class="c76" x="356" width="83" height="28.9"/><text class="v" x="397.5" y="20">0.758</text><rect class="c45" x="444" width="83" height="28.9"/><text class="v" x="485.5" y="20">0.452</text><rect class="c63" x="533" width="83" height="28.9"/><text class="v" x="574.5" y="20">0.628</text><rect class="mb" x="635" y="1.5" width="149.1" height="21"/><text class="m" x="824" y="20">0.612666667</text></g>
<g transform="translate(0,2203.1)"><text class="lb" x="351" y="21">SVM+Voting</text><rect class="c81" x="356" width="83" height="28.9"/><text class="v" x="397.5" y="20">0.811</text><rect class="c43" x="444" width="83" height="28.9"/><text class="v" x="485.5" y="20">0.425</text><rect class="c60" x="533" width="83" height="28.9"/><text class="v" x="574.5" y="20">0.598</text><rect class="tl" x="623" width="10" height="28.9"/><rect class="mb" x="635" y="1.5" width="148.8" height="21"/><text class="m" x="824" y="20">0.611333333</text></g>
<g transform="translate(0,2231.85)"><text class="lb" x="351" y="21">RF+SVM</text><rect class="c82" x="356" width="83" height="28.9"/><text class="v" x="397.5" y="20">0.818</text><rect class="c41" x="444" width="83" height="28.9"/><text class="v" x="485.5" y="20">0.408</text><rect class="c61" x="533" width="83" height="28.9"/><text class="v" x="574.5" y="20">0.607</text><rect class="mb" x="635" y="1.5" width="146.7" height="21"/><text class="m" x="824" y="20">0.611</text></g>
<g transform="translate(0,2260.6)"><text class="lb" x="351" y="21">Lasso+GradientBoosting</text><rect class="c69" x="356" width="83" height="28.9"/><text class="v" x="397.5" y="20">0.687</text><rect class="c62" x="444" width="83" height="28.9"/><text class="v" x="485.5" y="20">0.624</text><rect class="c45" x="533" width="83" height="28.9"/><text class="v" x="574.5" y="20">0.449</text><rect class="tl" x="623" width="10" height="28.9"/><rect class="mb" x="635" y="1.5" width="142.7" height="21"/><text class="m" x="824" y="20">0.586666667</text></g>
<g transform="translate(0,2289.35)"><text class="lb" x="351" y="21">Lasso+Decision.Tree</text><rect class="c71" x="356" width="83" height="28.9"/><text class="v" x="397.5" y="20">0.708</text><rect class="c60" x="444" width="83" height="28.9"/><text class="v" x="485.5" y="20">0.598</text><rect class="c45" x="533" width="83" height="28.9"/><text class="v" x="574.5" y="20">0.449</text><rect class="mb" x="635" y="1.5" width="142.3" height="21"/><text class="m" x="824" y="20">0.585</text></g>
<g transform="translate(0,2318.1)"><text class="lb" x="351" y="21">SVM+Decision.Tree</text><rect class="c74" x="356" width="83" height="28.9"/><text class="v" x="397.5" y="20">0.744</text><rect class="c38" x="444" width="83" height="28.9"/><text class="v" x="485.5" y="20">0.377</text><rect class="c58" x="533" width="83" height="28.9"/><text class="v" x="574.5" y="20">0.582</text><rect class="tl" x="623" width="10" height="28.9"/><rect class="mb" x="635" y="1.5" width="138.1" height="21"/><text class="m" x="824" y="20">0.567666667</text></g>
<g transform="translate(0,2346.85)"><text class="lb" x="351" y="21">RF+Decision.Tree</text><rect class="c68" x="356" width="83" height="28.75"/><text class="v" x="397.5" y="20">0.679</text><rect class="c35" x="444" width="83" height="28.75"/><text class="v" x="485.5" y="20">0.35</text><rect class="c54" x="533" width="83" height="28.75"/><text class="v" x="574.5" y="20">0.544</text><rect class="mb" x="635" y="1.5" width="127.5" height="21"/><text class="m" x="824" y="20">0.524333333</text></g>

<!-- highlight of first row -->
<rect x="138.5" y="75.5" width="483" height="27" fill="none" stroke="#9a9a9a" stroke-width="2"/>
<rect x="633" y="75.5" width="195" height="27" fill="none" stroke="#9a9a9a" stroke-width="2"/>
<polyline points="832,86 836,84 845,97 857,76" fill="none" stroke="#111" stroke-width="1.6"/>

<!-- ================= PANEL B ================= -->
<text class="pl" x="867" y="47">B</text>
<text class="fbh" x="876" y="96">Features</text>
<text class="fbh" x="988" y="96">p-value</text>
<text class="fbh" x="1326" y="96">Hazard Ratio(95%CI)</text>
<line x1="876" y1="105.5" x2="1489" y2="105.5" stroke="#111" stroke-width="1.5"/>
<line x1="876" y1="267" x2="1489" y2="267" stroke="#111" stroke-width="1.5"/>
<line x1="1176.5" y1="107" x2="1176.5" y2="266" stroke="#666" stroke-width="1" stroke-dasharray="2,2"/>
<text class="fb" x="876" y="124" fill="#e8402a" style="fill:#e8402a">CNR1</text>
<text class="fb" x="876" y="151">LAMA4</text>
<text class="fb" x="876" y="177">SLC25A10</text>
<text class="fb" x="876" y="205">TERT</text>
<text class="fb" x="876" y="232">C21orf58</text>
<text class="fb" x="876" y="259">LEPR</text>
<g class="fb" text-anchor="middle">
<text x="1006" y="124" text-anchor="middle">4.7e-3</text>
<text x="1006" y="151" text-anchor="middle">0.17</text>
<text x="1006" y="177" text-anchor="middle">0.19</text>
<text x="1006" y="205" text-anchor="middle">0.32</text>
<text x="1006" y="232" text-anchor="middle">0.34</text>
<text x="1006" y="259" text-anchor="middle">0.70</text>
</g>
<text class="fb" x="1343" y="124">0.91(0.85-0.97)</text>
<text class="fb" x="1343" y="151">0.97(0.94-1.01)</text>
<text class="fb" x="1343" y="177">1.04(0.98-1.11)</text>
<text class="fb" x="1343" y="205">1.03(0.97-1.09)</text>
<text class="fb" x="1343" y="232">1.04(0.96-1.11)</text>
<text class="fb" x="1343" y="259">0.94(0.70-1.27)</text>
<g stroke="#777" stroke-width="1.2" fill="none">
<line x1="1113.5" y1="120" x2="1164.7" y2="120" stroke-dasharray="2,2"/><line x1="1113.5" y1="115" x2="1113.5" y2="125"/><line x1="1164.7" y1="115" x2="1164.7" y2="125"/>
<line x1="1152.5" y1="147" x2="1180.4" y2="147" stroke-dasharray="2,2"/><line x1="1152.5" y1="142" x2="1152.5" y2="152"/><line x1="1180.4" y1="142" x2="1180.4" y2="152"/>
<line x1="1168.7" y1="173" x2="1217" y2="173" stroke-dasharray="2,2"/><line x1="1168.7" y1="168" x2="1168.7" y2="178"/><line x1="1217" y1="168" x2="1217" y2="178"/>
<line x1="1164.7" y1="201" x2="1210" y2="201" stroke-dasharray="2,2"/><line x1="1164.7" y1="196" x2="1164.7" y2="206"/><line x1="1210" y1="196" x2="1210" y2="206"/>
<line x1="1160.7" y1="228" x2="1217" y2="228" stroke-dasharray="2,2"/><line x1="1160.7" y1="223" x2="1160.7" y2="233"/><line x1="1217" y1="223" x2="1217" y2="233"/>
<line x1="1038" y1="255" x2="1269.3" y2="255" stroke-dasharray="2,2"/><line x1="1038" y1="250" x2="1038" y2="260"/><line x1="1269.3" y1="250" x2="1269.3" y2="260"/>
</g>
<g fill="#e8151b">
<circle cx="1140" cy="120" r="4.5"/><circle cx="1164.7" cy="147" r="4.5"/><circle cx="1191.7" cy="173" r="4.5"/><circle cx="1188" cy="201" r="4.5"/><circle cx="1191.7" cy="228" r="4.5"/><circle cx="1152.5" cy="255" r="4.5"/>
</g>
<g stroke="#111" stroke-width="1">
<line x1="1042" y1="267" x2="1042" y2="272"/><line x1="1069" y1="267" x2="1069" y2="272"/><line x1="1096" y1="267" x2="1096" y2="272"/><line x1="1123" y1="267" x2="1123" y2="272"/><line x1="1150" y1="267" x2="1150" y2="272"/><line x1="1176.5" y1="267" x2="1176.5" y2="272"/><line x1="1203.4" y1="267" x2="1203.4" y2="272"/><line x1="1230" y1="267" x2="1230" y2="272"/><line x1="1257" y1="267" x2="1257" y2="272"/>
</g>
<g style="font-size:11px;fill:#111" text-anchor="middle">
<text x="1042" y="284" text-anchor="middle">-0.5</text><text x="1069" y="284" text-anchor="middle">-0.4</text><text x="1096" y="284" text-anchor="middle">-0.3</text><text x="1123" y="284" text-anchor="middle">-0.2</text><text x="1150" y="284" text-anchor="middle">-0.1</text><text x="1176.5" y="284" text-anchor="middle">0.0</text><text x="1203.4" y="284" text-anchor="middle">0.1</text><text x="1230" y="284" text-anchor="middle">0.2</text><text x="1257" y="284" text-anchor="middle">0.3</text>
</g>
<text x="1148" y="296" text-anchor="middle" style="font-size:11.5px;fill:#111">log2(Hazard Ratio(95%CI))</text>

<!-- ================= PANEL C ================= -->
<text class="pl" x="1479" y="47">C</text>
<polygon points="1660,90 1666,90 1662,99" fill="#2a8a2a"/>
<polygon points="1526,155 1532,155 1528,164" fill="#2a8a2a"/>
<text class="cg" x="1595" y="116">Gene</text>
<text class="cg" x="1813" y="116">coef</text>
<rect x="1661" y="124" width="213" height="24" fill="url(#gr)" stroke="#e01010" stroke-width="2"/>
<rect x="1817" y="157" width="57" height="23" fill="url(#gr)" stroke="#e01010" stroke-width="2"/>
<rect x="1874" y="189" width="88" height="23" fill="url(#gm)" stroke="#d4007f" stroke-width="2"/>
<rect x="1874" y="221" width="63" height="23" fill="url(#gm)" stroke="#d4007f" stroke-width="2"/>
<rect x="1874" y="253" width="78" height="23" fill="url(#gm)" stroke="#d4007f" stroke-width="2"/>
<rect x="1747" y="285" width="127" height="24" fill="url(#gr)" stroke="#e01010" stroke-width="2"/>
<line x1="1874" y1="122" x2="1874" y2="311" stroke="#000" stroke-width="1.5" stroke-dasharray="3,2"/>
<text class="cg" x="1595" y="147">CNR1</text>
<text class="cg" x="1595" y="180">LAMA4</text>
<text class="cg" x="1595" y="212">SLC25A10</text>
<text class="cg" x="1595" y="244">TERT</text>
<text class="cg" x="1595" y="276">C21orf58</text>
<text class="cg" x="1595" y="308">LEPR</text>
<text class="cg" x="1815" y="147">-0.095135295</text>
<text class="cg" x="1815" y="180">-0.025481523</text>
<text class="cg" x="1815" y="212">0.040014248</text>
<text class="cg" x="1815" y="244">0.027990096</text>
<text class="cg" x="1815" y="276">0.035108026</text>
<text class="cg" x="1815" y="308">-0.056961113</text>

<!-- ================= PANEL D ================= -->
<text class="pl" x="862" y="383">D</text>
<text class="kp" x="940" y="396">TARGET</text>
<text class="kte" x="1439" y="397">RiskScore</text>
<rect x="1394" y="401" width="6" height="7" fill="#2fe0b0"/><text x="1402" y="409" style="font-size:11px;fill:#2fd0a8">L</text>
<rect x="1394" y="412" width="6" height="7" fill="#ee1111"/><text x="1402" y="420" style="font-size:11px;fill:#ee1111">H</text>
<polygon points="945,415 1095,415 1095,417 1187,417 1187,419 1405,419 1405,486 1187,486 1187,463 1095,463 1095,440 984,440 984,428 960,424 945,418" fill="#c6f5e9"/>
<polygon points="945,414 970,418 985,430 994,443 1021,453 1051,473 1090,495 1128,513 1178,520 1189,530 1298,530 1310,527 1433,527 1433,593 1316,593 1298,575 1189,575 1178,557 1128,552 1090,540 1051,520 1021,494 994,473 980,455 970,435 955,425 945,420" fill="#f9c7c8" fill-opacity="0.92"/>
<polyline points="945,417 962,418 984,419 984,425 1000,427 1010,429 1025,430 1065,430 1065,435 1074,435 1074,436 1095,436 1095,442 1187,442 1187,456 1405,456" fill="none" stroke="#22d4a6" stroke-width="1.5"/>
<polyline points="945,416 955,418 965,421 971,425 975,430 979,437 985,446 990,455 994,460 1000,462 1010,466 1021,470 1025,477 1028,483 1035,488 1040,492 1046,497 1051,500 1060,505 1067,510 1074,513 1082,518 1090,522 1100,526 1107,530 1113,532 1120,536 1124,537 1178,537 1183,544 1187,550 1195,553 1204,554 1298,554 1308,563 1317,571 1433,571" fill="none" stroke="#ee1a1a" stroke-width="1.5"/>
<path d="M1065,427v6M1095,433v6M1115,439v6M1137,439v6M1145,439v6M1152,439v6M1160,439v6M1170,439v6M1190,453v6M1195,453v6M1202,453v6M1267,453v6M1283,453v6M1314,453v6M1319,453v6M1398,453v6M1405,453v6" stroke="#22d4a6" stroke-width="1"/>
<path d="M1120,534v6M1126,534v6M1132,534v6M1138,534v6M1145,534v6M1150,534v6M1156,534v6M1162,534v6M1168,534v6M1220,551v6M1227,551v6M1234,551v6M1240,551v6M1250,551v6M1276,551v6M1289,551v6M1322,568v6M1383,568v6M1433,568v6" stroke="#ee1a1a" stroke-width="1"/>
<g stroke="#555" stroke-width="1" stroke-dasharray="2,2" fill="none">
<line x1="945" y1="502" x2="1405" y2="502"/><line x1="1076" y1="502" x2="1076" y2="603"/><line x1="1405" y1="502" x2="1405" y2="603"/>
</g>
<rect x="938" y="402" width="502" height="270" fill="none" stroke="#555" stroke-width="1.2"/>
<line x1="938" y1="632" x2="1440" y2="632" stroke="#222" stroke-width="2"/>
<line x1="938" y1="672" x2="1440" y2="672" stroke="#222" stroke-width="2"/>
<text class="kte" x="936" y="417">1.0</text><text class="kte" x="936" y="468">0.8</text><text class="kte" x="936" y="519">0.5</text><text class="kte" x="936" y="571">0.3</text><text class="kte" x="936" y="621">0.0</text>
<text class="ktm" x="1081" y="612">1330</text><text class="ktm" x="1409" y="612">4665</text>
<text class="kp" x="942" y="598">p=2.7e-6</text>
<text class="kp" x="942" y="611">HR=5.82,95CI%</text>
<text class="kp" x="942" y="626">(2.53,13.39)</text>
<text class="kt" x="940" y="643" style="font-size:12.5px">Number at risk</text>
<g style="fill:#3fcaa6"><text class="nr" x="933" y="657">L</text><text x="941" y="657" style="font-size:13px">40</text><text class="nr" x="1069" y="657">33</text><text class="nr" x="1191" y="657">12</text><text class="nr" x="1312" y="657">6</text><text class="nr" x="1434" y="657">1</text></g>
<g style="fill:#ee1c25"><text class="nr" x="933" y="670">H</text><text x="938" y="670" style="font-size:13px">119</text><text class="nr" x="1069" y="670">62</text><text class="nr" x="1191" y="670">18</text><text class="nr" x="1312" y="670">4</text><text class="nr" x="1434" y="670">1</text></g>
<text class="ktm" x="946" y="684">0</text><text class="ktm" x="1074" y="684">1,237</text><text class="ktm" x="1195" y="684">2,474</text><text class="ktm" x="1317" y="684">3,711</text><text class="ktm" x="1440" y="684">4,948</text>
<text class="ktm" x="1195" y="693">Time</text>
<text class="ktm" transform="translate(921,480) rotate(-90)">Survival probability</text>

<!-- ================= PANEL E ================= -->
<text class="pl" x="862" y="763">E</text>
<text class="kt" x="944" y="755">GSE49710</text>
<text class="kte" x="1445" y="753">Risk score</text>
<rect x="1403" y="760" width="6" height="7" fill="#2f2fe0"/><text x="1411" y="767" style="font-size:11px;fill:#3030d0">L</text>
<rect x="1403" y="771" width="6" height="7" fill="#2fe0b0"/><text x="1411" y="778" style="font-size:11px;fill:#2fd0a8">H</text>
<polygon points="943,768 1013,770 1063,772 1128,776 1155,777 1432,777 1432,792 1155,792 1128,788 1063,784 1013,778 943,771" fill="#b9b9f2"/>
<polygon points="943,768 965,775 982,800 1013,827 1040,852 1063,857 1156,857 1229,857 1229,865 1440,865 1440,913 1229,913 1229,900 1156,900 1156,895 1120,895 1063,890 1040,873 1013,847 982,823 965,795 950,775 943,770" fill="#c6f5e9"/>
<polyline points="943,769 975,773 1013,774 1063,778 1097,781 1128,782 1155,784 1432,784" fill="none" stroke="#2b2bdd" stroke-width="1.5"/>
<polyline points="943,769 953,769 958,775 965,782 971,787 975,795 982,810 985,813 989,818 994,822 1000,830 1005,835 1014,840 1020,845 1028,852 1033,858 1040,863 1049,868 1058,872 1063,873 1074,874 1100,876 1120,877 1120,880 1156,880 1156,883 1229,883 1229,893 1440,893" fill="none" stroke="#22d4a6" stroke-width="1.5"/>
<path d="M980,771v6M1000,771v6M1010,771v6M1020,772v6M1030,773v6M1045,774v6M1055,775v6M1070,776v6M1080,777v6M1090,778v6M1100,778v6M1110,779v6M1120,779v6M1140,780v6M1165,781v6M1175,781v6M1185,781v6M1195,781v6M1205,781v6M1215,781v6M1225,781v6M1235,781v6M1250,781v6M1270,781v6M1280,781v6M1300,781v6M1315,781v6M1325,781v6M1350,781v6M1380,781v6M1400,781v6M1432,781v6" stroke="#2b2bdd" stroke-width="1"/>
<path d="M1080,871v6M1090,872v6M1100,873v6M1110,874v6M1130,877v6M1140,877v6M1170,880v6M1185,880v6M1200,880v6M1210,880v6M1280,890v6M1300,890v6M1330,890v6M1350,890v6M1380,890v6" stroke="#22d4a6" stroke-width="1"/>
<g stroke="#555" stroke-width="1" stroke-dasharray="2,2" fill="none">
<line x1="943" y1="862" x2="1432" y2="862"/><line x1="1067" y1="862" x2="1067" y2="965"/><line x1="1432" y1="862" x2="1432" y2="965"/>
</g>
<rect x="937" y="757" width="510" height="275" fill="none" stroke="#555" stroke-width="1.2"/>
<line x1="937" y1="991" x2="1447" y2="991" stroke="#222" stroke-width="2"/>
<line x1="937" y1="1032" x2="1447" y2="1032" stroke="#222" stroke-width="2"/>
<text class="kte" x="936" y="771">1.0</text><text class="kte" x="936" y="823">0.8</text><text class="kte" x="936" y="876">0.5</text><text class="kte" x="936" y="928">0.3</text><text class="kte" x="936" y="981">0.0</text>
<text class="ktm" x="1072" y="975">1647</text><text class="ktm" x="1436" y="975">6482</text>
<text class="kp" x="940" y="960">p=3.3e-34</text>
<text class="kp" x="940" y="974">HR=11.90,95CI%</text>
<text class="kp" x="940" y="988">(7.21,19.64)</text>
<text class="kt" x="937" y="1002" style="font-size:12.5px">Number at risk</text>
<g style="fill:#3a4fb5"><text x="927" y="1016" style="font-size:13px">L314</text><text class="nr" x="1070" y="1016">239</text><text class="nr" x="1194" y="1016">98</text><text class="nr" x="1318" y="1016">15</text><text class="nr" x="1442" y="1016">1</text></g>
<g style="fill:#3fcaa6"><text x="927" y="1030" style="font-size:13px">H184</text><text class="nr" x="1070" y="1030">55</text><text class="nr" x="1194" y="1030">17</text><text class="nr" x="1318" y="1030">3</text><text class="nr" x="1442" y="1030">1</text></g>
<text class="ktm" x="943" y="1043">0</text><text class="ktm" x="1074" y="1043">1,650</text><text class="ktm" x="1199" y="1043">3,300</text><text class="ktm" x="1323" y="1043">4,950</text><text class="ktm" x="1447" y="1043">6,600</text>
<text class="ktm" x="1199" y="1053">time</text>
<text class="ktm" transform="translate(919,839) rotate(-90)">Survival probability</text>

<!-- ================= PANEL F ================= -->
<text class="pl" x="858" y="1097">F</text>
<text class="kt" x="952" y="1113">AE</text>
<text class="kte" x="1451" y="1112">Risk score</text>
<rect x="1427" y="1118" width="6" height="7" fill="#e8207a"/><text x="1435" y="1125" style="font-size:11px;fill:#e8207a">L</text>
<rect x="1427" y="1128" width="6" height="7" fill="#2fe0b0"/><text x="1435" y="1135" style="font-size:11px;fill:#2fd0a8">H</text>
<polygon points="952,1127 1426,1127 1426,1141 990,1141 975,1136 952,1130" fill="#f4b9d8"/>
<polygon points="975,1129 982,1137 1013,1150 1032,1165 1063,1175 1105,1182 1176,1187 1178,1190 1445,1190 1445,1237 1178,1237 1176,1232 1143,1232 1100,1226 1076,1218 1044,1207 1013,1190 990,1157 980,1140 975,1131" fill="#c6f5e9"/>
<polyline points="952,1128 968,1128 975,1130 985,1133 990,1134 1426,1134" fill="none" stroke="#e8207a" stroke-width="1.5"/>
<polyline points="952,1128 975,1130 982,1137 988,1146 990,1157 998,1160 1011,1163 1015,1177 1028,1182 1040,1187 1051,1192 1063,1195 1069,1198 1078,1203 1115,1203 1115,1206 1143,1206 1143,1211 1175,1211 1175,1217 1447,1217" fill="none" stroke="#22d4a6" stroke-width="1.5"/>
<path d="M1000,1131v6M1012,1131v6M1030,1131v6M1040,1131v6M1050,1131v6M1060,1131v6M1075,1131v6M1085,1131v6M1095,1131v6M1105,1131v6M1115,1131v6M1125,1131v6M1140,1131v6M1150,1131v6M1160,1131v6M1196,1131v6M1205,1131v6M1215,1131v6M1230,1131v6M1240,1131v6M1250,1131v6M1300,1131v6M1318,1131v6M1350,1131v6M1372,1131v6" stroke="#e8207a" stroke-width="1"/>
<path d="M1020,1176v6M1035,1181v6M1045,1186v6M1058,1191v6M1085,1200v6M1095,1200v6M1110,1200v6M1130,1203v6M1150,1208v6M1160,1208v6M1170,1208v6M1200,1214v6M1220,1214v6M1260,1214v6M1300,1214v6M1340,1214v6M1380,1214v6M1405,1214v6" stroke="#22d4a6" stroke-width="1"/>
<g stroke="#555" stroke-width="1" stroke-dasharray="2,2" fill="none">
<line x1="952" y1="1218" x2="1447" y2="1218"/><line x1="1427" y1="1218" x2="1427" y2="1320"/><line x1="1445" y1="1218" x2="1445" y2="1320"/>
</g>
<rect x="945" y="1115" width="507" height="272" fill="none" stroke="#555" stroke-width="1.2"/>
<line x1="945" y1="1346" x2="1452" y2="1346" stroke="#222" stroke-width="2"/>
<line x1="945" y1="1387" x2="1452" y2="1387" stroke="#222" stroke-width="2"/>
<text class="kte" x="943" y="1129">1.0</text><text class="kte" x="943" y="1181">0.8</text><text class="kte" x="943" y="1233">0.5</text><text class="kte" x="943" y="1285">0.3</text><text class="kte" x="943" y="1337">0.0</text>
<text class="ktm" x="1421" y="1329">6932</text><text class="ktm" x="1455" y="1329">7204</text>
<text class="kp" x="950" y="1314">p=1.3e-9</text>
<text class="kp" x="950" y="1328">HR=12.13,95CI%(4.33,34.01)</text>
<text class="kt" x="946" y="1357" style="font-size:12.5px">Number at risk</text>
<g style="fill:#e8207a"><text x="937" y="1371" style="font-size:13px">L116</text><text class="nr" x="1078" y="1371">73</text><text class="nr" x="1202" y="1371">23</text><text class="nr" x="1324" y="1371">3</text><text class="nr" x="1446" y="1371">1</text></g>
<g style="fill:#3fcaa6"><text x="937" y="1384" style="font-size:13px">H107</text><text class="nr" x="1078" y="1384">48</text><text class="nr" x="1202" y="1384">17</text><text class="nr" x="1324" y="1384">7</text><text class="nr" x="1446" y="1384">1</text></g>
<text class="ktm" x="953" y="1398">0</text><text class="ktm" x="1082" y="1398">1,801</text><text class="ktm" x="1206" y="1398">3,602</text><text class="ktm" x="1329" y="1398">5,403</text><text class="ktm" x="1453" y="1398">7,204</text>
<text class="ktm" x="1218" y="1408">overall survival]</text>
<text class="ktm" transform="translate(926,1195) rotate(-90)">Survival probability</text>

<!-- ================= RIGHT BAR PANELS ================= -->
<!-- TARGET -->
<rect x="1589.5" y="387" width="390" height="40" fill="none" stroke="#000" stroke-width="3.5"/>
<text class="bt" x="1784" y="416">TARGET</text>
<rect x="1589.5" y="432" width="390" height="258" fill="none" stroke="#000" stroke-width="4"/>
<g fill="url(#gb)" stroke="#5b8fd6" stroke-width="1.8">
<rect x="1600" y="445" width="307.8" height="49"/>
<rect x="1600" y="505" width="295.7" height="49"/>
<rect x="1600" y="565" width="283.5" height="49"/>
<rect x="1600" y="625" width="267.3" height="49"/>
</g>
<text class="bl" x="1584" y="481">Standard</text><text class="bl" x="1584" y="541">5-Year</text><text class="bl" x="1584" y="601">3-Year</text><text class="bl" x="1584" y="661">1-Year</text>
<text class="bl" x="1951" y="481">0.76</text><text class="bl" x="1951" y="541">0.73</text><text class="bl" x="1951" y="601">0.7</text><text class="bl" x="1951" y="661">0.66</text>
<!-- GSE49710 -->
<rect x="1589.5" y="734" width="390" height="41" fill="none" stroke="#000" stroke-width="3.5"/>
<text class="bt" x="1784" y="763">GSE49710</text>
<rect x="1589.5" y="780" width="390" height="258" fill="none" stroke="#000" stroke-width="4"/>
<g fill="url(#gm)" stroke="#e0007f" stroke-width="1.8">
<rect x="1600" y="793" width="336.2" height="49"/>
<rect x="1600" y="853" width="352.4" height="49"/>
<rect x="1600" y="913" width="348.3" height="49"/>
<rect x="1600" y="973" width="307.8" height="49"/>
</g>
<text class="bl" x="1584" y="827">Standard</text><text class="bl" x="1584" y="887">5-Year</text><text class="bl" x="1584" y="947">3-Year</text><text class="bl" x="1584" y="1007">1-Year</text>
<text class="bl" x="1951" y="827">0.83</text><text class="bl" x="1951" y="887">0.87</text><text class="bl" x="1951" y="947">0.86</text><text class="bl" x="1951" y="1007">0.76</text>
<!-- AE -->
<rect x="1589.5" y="1082" width="390" height="39" fill="none" stroke="#000" stroke-width="3.5"/>
<text class="bt" x="1784" y="1111">AE</text>
<rect x="1589.5" y="1128" width="390" height="255" fill="none" stroke="#000" stroke-width="4"/>
<g fill="url(#go)" stroke="#ffb020" stroke-width="1.8">
<rect x="1600" y="1141" width="351.5" height="49"/>
<rect x="1600" y="1201" width="347.2" height="49"/>
<rect x="1600" y="1261" width="329.8" height="49"/>
<rect x="1600" y="1322" width="247.4" height="48"/>
</g>
<text class="bl" x="1584" y="1175">Standard</text><text class="bl" x="1584" y="1235">5-Year</text><text class="bl" x="1584" y="1295">3-Year</text><text class="bl" x="1584" y="1355">1-Year</text>
<text class="bl" x="1951" y="1175">0.81</text><text class="bl" x="1951" y="1235">0.8</text><text class="bl" x="1951" y="1295">0.76</text><text class="bl" x="1951" y="1355">0.57</text>

<!-- ================= PANEL G ================= -->
<text class="pl" x="858" y="1480">G</text>
<g stroke="#d9d9d9" stroke-width="2">
<line x1="1050" y1="1527" x2="1872" y2="1527"/><line x1="1050" y1="1561" x2="1872" y2="1561"/><line x1="1050" y1="1595" x2="1872" y2="1595"/><line x1="1050" y1="1629" x2="1872" y2="1629"/><line x1="1050" y1="1663" x2="1872" y2="1663"/><line x1="1050" y1="1697" x2="1872" y2="1697"/><line x1="1050" y1="1731" x2="1872" y2="1731"/><line x1="1050" y1="1765" x2="1872" y2="1765"/><line x1="1050" y1="1799" x2="1872" y2="1799"/>
</g>
<text class="ax" x="1033" y="1534">0.8</text><text class="ax" x="1033" y="1568">0.7</text><text class="ax" x="1033" y="1602">0.6</text><text class="ax" x="1033" y="1636">0.5</text><text class="ax" x="1033" y="1670">0.4</text><text class="ax" x="1033" y="1704">0.3</text><text class="ax" x="1033" y="1738">0.2</text><text class="ax" x="1033" y="1772">0.1</text><text class="ax" x="1033" y="1806">0</text>
<text transform="translate(982,1663) rotate(-90)" text-anchor="middle" style="font-size:22px;font-weight:bold;fill:#595959">AUC</text>
<rect x="1071" y="1540.6" width="20" height="258.4" fill="#5b9bd5"/>
<rect x="1134" y="1622.2" width="20" height="176.8" fill="#ed7d31"/>
<rect x="1198" y="1612" width="20" height="187" fill="#a5a5a5"/>
<rect x="1260" y="1584.8" width="20" height="214.2" fill="#ffc000"/>
<rect x="1324" y="1588.2" width="20" height="210.8" fill="#4472c4"/>
<rect x="1388" y="1598.4" width="20" height="200.6" fill="#70ad47"/>
<rect x="1451" y="1588.2" width="20" height="210.8" fill="#255e91"/>
<rect x="1514" y="1571.2" width="20" height="227.8" fill="#9e480e"/>
<rect x="1577" y="1578" width="20" height="221" fill="#636363"/>
<rect x="1641" y="1601.8" width="20" height="197.2" fill="#997300"/>
<rect x="1704" y="1591.6" width="20" height="207.4" fill="#264478"/>
<rect x="1768" y="1629" width="20" height="170" fill="#43682b"/>
<rect x="1831" y="1584.8" width="20" height="214.2" fill="#7cafdd"/>
<text class="val" x="1081" y="1525">0.76</text>
<text class="val" x="1144" y="1606">0.52</text>
<text class="val" x="1208" y="1596">0.55</text>
<text class="val" x="1270" y="1569">0.63</text>
<text class="val" x="1334" y="1572">0.62</text>
<text class="val" x="1398" y="1582">0.59</text>
<text class="val" x="1461" y="1572">0.62</text>
<text class="val" x="1524" y="1555">0.67</text>
<text class="val" x="1587" y="1562">0.65</text>
<text class="val" x="1651" y="1586">0.58</text>
<text class="val" x="1714" y="1576">0.61</text>
<text class="val" x="1778" y="1613">0.5</text>
<text class="val" x="1841" y="1569">0.63</text>
<rect x="991" y="1497" width="924" height="306" fill="none" stroke="#e0137f" stroke-width="2.5"/>
<text class="gt" x="1445" y="1500">TARGET</text>
<text class="cat" transform="translate(1088,1830) rotate(-40)">RiskScore</text>
<text class="cat" transform="translate(1151,1830) rotate(-40)">Gender</text>
<text class="cat" transform="translate(1215,1830) rotate(-40)">Race</text>
<text class="cat" transform="translate(1277,1830) rotate(-40)">Age at Diagnosis</text>
<text class="cat" transform="translate(1341,1830) rotate(-40)">INSS Stage</text>
<text class="cat" transform="translate(1405,1830) rotate(-40)">MYCN status</text>
<text class="cat" transform="translate(1468,1830) rotate(-40)">Ploidy</text>
<text class="cat" transform="translate(1531,1830) rotate(-40)">Ploidy Value</text>
<text class="cat" transform="translate(1594,1830) rotate(-40)">Histology</text>
<text class="cat" transform="translate(1658,1830) rotate(-40)">Grade</text>
<text class="cat" transform="translate(1721,1830) rotate(-40)">MKI</text>
<text class="cat" transform="translate(1785,1830) rotate(-40)">Diagnostic Category</text>
<text class="cat" transform="translate(1848,1830) rotate(-40)">COG Risk Group</text>

<!-- ================= PANEL H ================= -->
<text class="pl" x="865" y="1927">H</text>
<g stroke="#d9d9d9" stroke-width="2">
<line x1="1050" y1="2017" x2="1866" y2="2017"/><line x1="1050" y1="2047" x2="1866" y2="2047"/><line x1="1050" y1="2077" x2="1866" y2="2077"/><line x1="1050" y1="2107" x2="1866" y2="2107"/><line x1="1050" y1="2137" x2="1866" y2="2137"/><line x1="1050" y1="2167" x2="1866" y2="2167"/><line x1="1050" y1="2197" x2="1866" y2="2197"/><line x1="1050" y1="2227" x2="1866" y2="2227"/><line x1="1050" y1="2257" x2="1866" y2="2257"/><line x1="1050" y1="2287" x2="1866" y2="2287"/>
</g>
<text class="ax" x="1035" y="2024">0.9</text><text class="ax" x="1035" y="2054">0.8</text><text class="ax" x="1035" y="2084">0.7</text><text class="ax" x="1035" y="2114">0.6</text><text class="ax" x="1035" y="2144">0.5</text><text class="ax" x="1035" y="2174">0.4</text><text class="ax" x="1035" y="2204">0.3</text><text class="ax" x="1035" y="2234">0.2</text><text class="ax" x="1035" y="2264">0.1</text><text class="ax" x="1035" y="2294">0</text>
<text transform="translate(982,2152) rotate(-90)" text-anchor="middle" style="font-size:22px;font-weight:bold;fill:#595959">AUC</text>
<rect x="1072" y="2038" width="20" height="249" fill="#5b9bd5"/>
<rect x="1134" y="2047" width="20" height="240" fill="#ed7d31"/>
<rect x="1197" y="2059" width="20" height="228" fill="#a5a5a5"/>
<rect x="1259" y="2044" width="20" height="243" fill="#ffc000"/>
<rect x="1322" y="2083" width="20" height="204" fill="#4472c4"/>
<rect x="1385" y="2131" width="20" height="156" fill="#70ad47"/>
<rect x="1448" y="2050" width="20" height="237" fill="#255e91"/>
<rect x="1511" y="2044" width="20" height="243" fill="#9e480e"/>
<rect x="1574" y="2149" width="20" height="138" fill="#636363"/>
<rect x="1636" y="2089" width="20" height="198" fill="#997300"/>
<rect x="1699" y="2134" width="20" height="153" fill="#264478"/>
<rect x="1762" y="2077" width="20" height="210" fill="#43682b"/>
<rect x="1824" y="2083" width="20" height="204" fill="#7cafdd"/>
<text class="val" x="1082" y="2021">0.83</text>
<text class="val" x="1144" y="2030">0.8</text>
<text class="val" x="1207" y="2042">0.76</text>
<text class="val" x="1269" y="2027">0.81</text>
<text class="val" x="1332" y="2066">0.68</text>
<text class="val" x="1395" y="2114">0.52</text>
<text class="val" x="1458" y="2033">0.79</text>
<text class="val" x="1521" y="2027">0.81</text>
<text class="val" x="1584" y="2132">0.46</text>
<text class="val" x="1646" y="2072">0.66</text>
<text class="val" x="1709" y="2117">0.51</text>
<text class="val" x="1772" y="2060">0.7</text>
<text class="val" x="1834" y="2066">0.68</text>
<rect x="991" y="1971" width="490" height="320" fill="none" stroke="#e0137f" stroke-width="2.5"/>
<rect x="1495" y="1971" width="420" height="320" fill="none" stroke="#e0137f" stroke-width="2.5"/>
<text class="gt" x="1246" y="1970">GSE49710</text>
<text class="gt" x="1717" y="1970">AE</text>
<text class="cat" transform="translate(1089,2316) rotate(-40)">Risk score</text>
<text class="cat" transform="translate(1151,2316) rotate(-40)">COG risk group</text>
<text class="cat" transform="translate(1214,2316) rotate(-40)">Progression</text>
<text class="cat" transform="translate(1276,2316) rotate(-40)">MYCN status</text>
<text class="cat" transform="translate(1339,2316) rotate(-40)">Inss stage</text>
<text class="cat" transform="translate(1402,2316) rotate(-40)">Sex</text>
<text class="cat" transform="translate(1465,2316) rotate(-40)">Age at diagnosis</text>
<text class="cat" transform="translate(1528,2316) rotate(-40)">Risk score</text>
<text class="cat" transform="translate(1591,2316) rotate(-40)">Inss stagr</text>
<text class="cat" transform="translate(1653,2316) rotate(-40)">1p del/im</text>
<text class="cat" transform="translate(1716,2316) rotate(-40)">11q del/im</text>
<text class="cat" transform="translate(1779,2316) rotate(-40)">Gene/wild type</text>
<text class="cat" transform="translate(1841,2316) rotate(-40)">MYCN status</text>
</svg>
</body></html>
